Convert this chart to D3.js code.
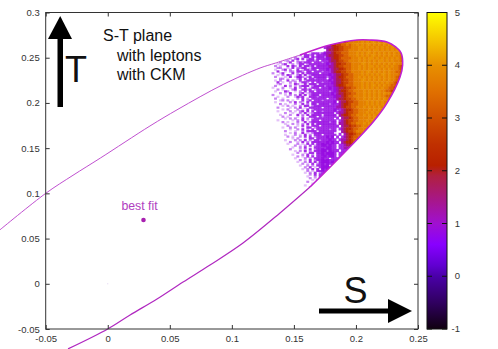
<!DOCTYPE html>
<html>
<head>
<meta charset="utf-8">
<script src="https://d3js.org/d3.v7.min.js"></script>
<style>
html, body { margin: 0; padding: 0; background: #fff; }
svg { display: block; font-family: "Liberation Sans", sans-serif; }
.axis text { font-size: 9.5px; fill: #333; font-family: "Liberation Sans", sans-serif; }
.axis line { stroke: #333; }
.axis path { display: none; }
</style>
</head>
<body>
<svg id="chart" width="498" height="349"></svg>
<script>
// tick labels
var sTicks = [-0.05, 0, 0.05, 0.1, 0.15, 0.2, 0.25];
var tTicks = [-0.05, 0, 0.05, 0.1, 0.15, 0.2, 0.25, 0.3];
var barTicks = [-1, 0, 1, 2, 3, 4, 5];

// colour bar
var barValues = [-1, -0.5, 0, 0.2, 0.6, 1, 1.5, 1.9, 2.1, 2.5, 3, 3.5, 4, 4.5, 5];
var barColors = ["#100010", "#300060", "#4a00a8", "#6000d0", "#8800ff", "#a010d0", "#a81880", "#b02040", "#b82000", "#c03000", "#d05000", "#e07000", "#e89000", "#f5c800", "#ffff00"];

// outline of the allowed region
var upperS = [-0.087, -0.05, -0.028, -0.006, 0.034, 0.0566, 0.093, 0.1227, 0.135, 0.155];
var upperT = [0.0595, 0.1, 0.12, 0.139, 0.1745, 0.193, 0.2204, 0.2386, 0.244, 0.253];
var tipS = [0.155, 0.179, 0.201, 0.211, 0.225, 0.232, 0.2364, 0.2376, 0.2355, 0.225, 0.2138, 0.1872, 0.163];
var tipT = [0.253, 0.264, 0.2696, 0.2696, 0.2674, 0.262, 0.2552, 0.242, 0.2287, 0.1998, 0.1789, 0.1402, 0.107];
var lowerS = [0.163, 0.1388, 0.109, 0.0824, 0.0607, 0.0397, 0.018, 0, -0.032];
var lowerT = [0.107, 0.0783, 0.0451, 0.0208, 0.002, -0.0168, -0.0345, -0.05, -0.072];

var bestFit = [0.0288, 0.0706];
var origin = [0, 0];

// density cells: one string per T row, one char per S column, "." is empty
var levels = [0.25, 0.5, 0.85, 1.2, 1.8, 2.3, 2.8, 3.3, 3.75, 4.0];

// the speckled left part
var speckleS0 = 0.13, speckleDS = 0.002;
var speckleT0 = 0.256, speckleDT = -0.002;
var speckleRows = [
"............1.2.0222122232223",
"...........01.2212.222222322",
"..........1..022.21222122232",
"........0.12.2.122.222222223",
"......01.2.1.0.22212.2222222",
"....1..02..121222.222122232",
"...0.12..1.022.12222222222",
"..1.0..2.21.2.2212.22222322",
"...11..0.2.1122.0222222222",
"..0..12.1..2.022122.2222232",
"...2..0.11.221.22.222122222",
".1..02...2.1.2022222.222223",
"...0.1.21..12.2.122222222222",
"..1...0.2.0221.12.22222122",
"....11.0...12.2.2212222.2222",
"..0.1..2.10.2.12222222222232",
"...2.0..1.1.0221.2.2212222222",
"...01...0.21..2.222.22222222",
"..1...2.1.0.1222.12222122223",
".0...1..0.2.1.2.0222.222222",
"...1.0...12..2212.1222222222",
"..0...21..0.1.2.22.22222122",
"....1.0.2...12.012222222222",
".1....0.1.1.2.2.1222.2222223",
"...0...1..0212..222122222222",
"..1..0.....1.2.1.222222.2222",
"....01.1.0...2.12.222122222",
"..0.....1.2.10.2.2222222222",
"....1.0...1..2.1.22.2222122",
".....0.1.0..1.22.1222222222",
"...1....0.1.2.0.22222.22222",
".....0.1...1.0.2.12222222222",
"...0....1.0.12.2.2.22122222",
"......1..0..1.2.0122222222",
"....0...1..2.1.2.2222.22222",
".....1.0...0.1..222.2122222",
"......0.1.1..2.1.122222222",
"...0.....0.1.2.0.222.222222",
".....1.0...1..2.12222222122",
"......0..1.0.1.2.2.22222222",
".......1...0.2.1.222.222222",
".....0..1.1..0.22.122222222",
"........0..1.2.1.2.22222122",
"......1...0..1.2222.2222222",
"........0.1..2.0.122222222",
"......0...1.0.2.1.222.22222",
".......1.0..1.2.2.12222222",
".........0.1..0.22.2222222",
"......0...1.1.2.1.22122222",
"........1..0.2.1.2222.2222",
".......0...1.0.2.2.2222222",
"..........1.0.1.2.12222222",
".........0..1.2.0.222.2222",
"........1...0.1.2.12222222",
"..........0.1.2.1.22222122",
"...........1..0.22.2222222",
".........0...1.2.1.2222222",
"...........1.0.2.2.2212222",
"..........0...1.1.22222",
"............1.0.2.1222222",
"...........0..1.2.2.222222",
".............1.0.2.122222",
"............0..1.1.22222",
"..............1.2.0.22222",
".............0.1.2.2.2222",
"...............1.0.2222",
"..............0.1.2.1222",
"................1.2.222",
"...............0..1.22",
"................1.0.2.2",
".................0.1.22",
"...............1...2.12",
".................0.1.2",
"..............0...1.2",
"................1...0",
"................0.1",
"...............1..0",
"................0"
];

// the filled right part
var coreS0 = 0.172, coreDS = 0.002;
var coreT0 = 0.272, coreDT = -0.003;
var coreRows = [
"..334556677788898989899898989898988",
"..234455667888889898998989898989887",
".3345566778788989899898989898998987",
".2334556677788899898989898989889887",
"..344556677888898989899898989898866",
".2334566777888989899898989898988766",
"..3445566778889898989989898989887665",
"..2345567777888989899898989898987766",
"...344566778888989898989989898887665",
"..2.34556677888899898989898989888655",
"...33456677788898989989898989887655",
"..2.344556778889898989898989888765",
"....3455667788889899898989898877655",
"...2.3445667788898989898998988876655",
"....23455677788989898989898988765",
"...2.34456677888998989898989887665",
"....2344566778889898989898988766",
".....3455677788898989989898877665",
"...2.2344566778898989898988776655",
".....234556778888989898988776655",
"....2.3445667788898989898988776655",
".....233456778888989898988776655",
"......3445667788898989898987766",
".....2.344566778889898989887766",
"......2345567778889898989887",
"......3345667788898989898877",
".....2.234556778888989898877",
"......2334566778889898988777",
".......345567788898989887",
"......2.3445677888898988777",
".......2345667788898988777",
".......3345677888989887",
"......2.344566778888987",
".......23455677888887",
"........3456678888877",
".......2.3455677887",
"..2.2.2.2345677877",
"...2.2.233456778",
"2.2.222.3455677",
"22.2.2.22344567",
"2.22.2.2233456",
"22.2.22.223345",
"2.2222.22334",
"22.222.2233",
"2.2.22223",
"222.2223",
"2.2.222",
"222.22",
"2.222"
];

var svg = d3.select("#chart");
var x = d3.scaleLinear().domain([-0.05, 0.25]).range([45.7, 418]);
var y = d3.scaleLinear().domain([-0.05, 0.3]).range([329, 12.5]);
var barY = d3.scaleLinear().domain([-1, 5]).range([329, 12.5]);
var color = d3.scaleLinear().domain(barValues).range(barColors);

var outline = d3.line().curve(d3.curveCatmullRom.alpha(0.5))
	.x(function(d){ return x(d[0]); }).y(function(d){ return y(d[1]); });

var upperPts = d3.zip(upperS, upperT);
var tipPts = d3.zip(tipS, tipT);
var lowerPts = d3.zip(lowerS, lowerT);

// clip the cells with the outline
svg.append("clipPath").attr("id", "region").append("path")
	.attr("d", outline(tipPts.concat(lowerPts.slice(1), upperPts)) + "Z");

var drawCells = function(rows, s0, ds, t0, dt){
	var cells = [];
	rows.forEach(function(row, r){
		for(var c=0; c<row.length; c++){
			if(row[c] !== "."){
				cells.push({s: s0 + c*ds, t: t0 + r*dt, v: levels[+row[c]]});
			}
		}
	});
	svg.append("g").attr("clip-path", "url(#region)").selectAll("rect").data(cells).enter().append("rect")
		.attr("x", function(d){ return x(d.s); })
		.attr("y", function(d){ return y(d.t); })
		.attr("width", x(ds) - x(0) + 0.4)
		.attr("height", y(dt) - y(0) + 0.4)
		.attr("fill", function(d){ return color(Math.max(d.v, 0.8)); })
		.attr("fill-opacity", function(d){ return Math.min(d.v, 1); });
}

drawCells(speckleRows, speckleS0, speckleDS, speckleT0, speckleDT);
drawCells(coreRows, coreS0, coreDS, coreT0, coreDT);

//Outline
svg.append("path").attr("d", outline(upperPts)).attr("fill", "none").attr("stroke", "#c050d0").attr("stroke-width", 1);
svg.append("path").attr("d", outline(tipPts)).attr("fill", "none").attr("stroke", "#c020d0").attr("stroke-width", 1.6);
svg.append("path").attr("d", outline(lowerPts)).attr("fill", "none").attr("stroke", "#b028c0").attr("stroke-width", 1.2);

//Axes
var bottom = d3.axisBottom(x).tickValues(sTicks).tickFormat(function(d){ return d; }).tickSize(-4).tickPadding(6);
var left = d3.axisLeft(y).tickValues(tTicks).tickFormat(function(d){ return d; }).tickSize(-4).tickPadding(6);
var top_ = d3.axisTop(x).tickValues(sTicks).tickFormat("").tickSize(-4);
var right = d3.axisRight(y).tickValues(tTicks).tickFormat("").tickSize(-4);
svg.append("g").attr("class", "axis").attr("transform", "translate(0,329)").call(bottom);
svg.append("g").attr("class", "axis").attr("transform", "translate(45.7,0)").call(left);
svg.append("g").attr("class", "axis").attr("transform", "translate(0,12.5)").call(top_);
svg.append("g").attr("class", "axis").attr("transform", "translate(418,0)").call(right);
svg.append("rect").attr("x", 45.7).attr("y", 12.5).attr("width", 372.3).attr("height", 316.5)
	.attr("fill", "none").attr("stroke", "#333").attr("stroke-width", 1);

//Best fit
svg.append("circle").attr("cx", x(bestFit[0])).attr("cy", y(bestFit[1])).attr("r", 2.3).attr("fill", "#a820b0");
svg.append("text").attr("x", 139.5).attr("y", 210).attr("text-anchor", "middle")
	.attr("font-size", 12.3).attr("fill", "#b040c0").text("best fit");
svg.append("rect").attr("x", x(origin[0]) - 0.5).attr("y", y(origin[1]) - 0.5).attr("width", 1).attr("height", 1).attr("fill", "#e0d0f0");

//Colour bar
var grad = svg.append("linearGradient").attr("id", "bar").attr("x1", 0).attr("y1", 1).attr("x2", 0).attr("y2", 0);
barValues.forEach(function(v, i){
	grad.append("stop").attr("offset", (v + 1) / 6).attr("stop-color", barColors[i]);
});
svg.append("rect").attr("x", 427).attr("y", 12.5).attr("width", 20).attr("height", 316.5)
	.attr("fill", "url(#bar)").attr("stroke", "#111").attr("stroke-width", 1);
svg.selectAll(".barTickL").data(barTicks).enter().append("line").attr("class", "barTickL")
	.attr("x1", 427).attr("x2", 432).attr("y1", barY).attr("y2", barY).attr("stroke", "#111");
svg.selectAll(".barTickR").data(barTicks).enter().append("line").attr("class", "barTickR")
	.attr("x1", 442).attr("x2", 447).attr("y1", barY).attr("y2", barY).attr("stroke", "#111");
svg.selectAll(".barLabel").data(barTicks).enter().append("text").attr("class", "barLabel")
	.attr("x", 460).attr("y", function(d){ return barY(d) + 3; }).attr("text-anchor", "end")
	.attr("font-size", 9.5).attr("fill", "#333").text(function(d){ return d; });

//Title
var title = svg.append("g").attr("font-size", 16).attr("fill", "#111");
title.append("text").attr("x", 103).attr("y", 41).text("S-T plane");
title.append("text").attr("x", 117).attr("y", 60.5).text("with leptons");
title.append("text").attr("x", 117).attr("y", 80).text("with CKM");

//Big arrows
svg.append("rect").attr("x", 57.5).attr("y", 38).attr("width", 5.5).attr("height", 69).attr("fill", "#000");
svg.append("path").attr("d", "M60.2,16L72,39L48,39Z").attr("fill", "#000");
svg.append("rect").attr("x", 319).attr("y", 308.5).attr("width", 70).attr("height", 5).attr("fill", "#000");
svg.append("path").attr("d", "M412,311L388,299L388,323Z").attr("fill", "#000");
svg.append("text").attr("x", 65).attr("y", 82).attr("font-size", 36).attr("fill", "#111").text("T");
svg.append("text").attr("x", 343.5).attr("y", 302.5).attr("font-size", 36).attr("fill", "#111").text("S");
</script>
</body>
</html>
